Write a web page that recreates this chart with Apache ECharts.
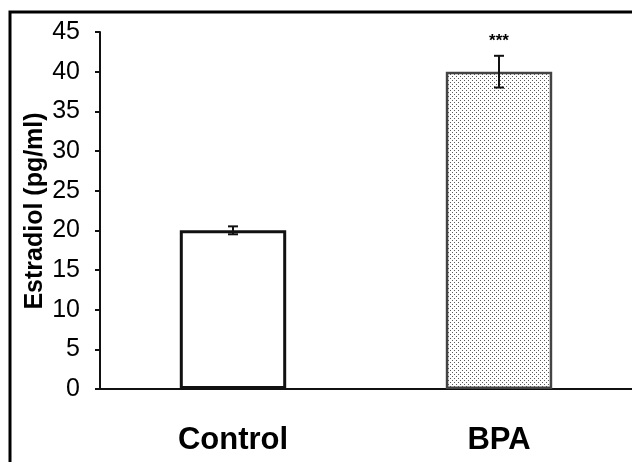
<!DOCTYPE html>
<html>
<head>
<meta charset="utf-8">
<script src="https://cdn.jsdelivr.net/npm/echarts@6/dist/echarts.min.js"></script>
<style>
html,body{margin:0;padding:0;background:#fff;}
#chart{width:632px;height:462px;}
</style>
</head>
<body>
<div id="chart"></div>
<script>
const categories = ['Control', 'BPA'];
const values = [20, 40];
const errors = [0.5, 2];
const significance = ['', '***'];
const yTicks = { min: 0, max: 45, interval: 5 };
const yTitle = 'Estradiol (pg/ml)';

// dotted fill pattern for BPA bar
function dotPattern() {
  const c = document.createElement('canvas');
  c.width = 4; c.height = 4;
  const ctx = c.getContext('2d');
  ctx.fillStyle = '#ffffff';
  ctx.fillRect(0, 0, 4, 4);
  ctx.fillStyle = '#5a5a5a';
  ctx.fillRect(0, 0, 1, 1);
  ctx.fillRect(2, 2, 1, 1);
  return c;
}

const font = 'Liberation Sans, Arial, Helvetica, sans-serif';
const chart = echarts.init(document.getElementById('chart'), null, { renderer: 'canvas' });

const barData = values.map((v, i) => ({
  value: v,
  itemStyle: i === 0
    ? { color: '#ffffff', borderColor: '#111', borderWidth: 3 }
    : { color: { image: dotPattern(), repeat: 'repeat' }, borderColor: '#444', borderWidth: 2.5 }
}));

const errData = values.map((v, i) => [i, v, errors[i], significance[i]]);

chart.setOption({
  animation: false,
  backgroundColor: '#ffffff',
  graphic: [{
    type: 'rect',
    shape: { x: 10, y: 12, width: 700, height: 500 },
    style: { fill: 'none', stroke: '#000', lineWidth: 3 },
    z: 100
  }, {
    type: 'text',
    x: 35, y: 211,
    rotation: Math.PI / 2,
    style: { text: yTitle, align: 'center', verticalAlign: 'middle', fill: '#000',
             font: 'bold 25px ' + font },
    z: 50
  }],
  grid: { left: 100, right: 0, top: 32, bottom: 73 },
  xAxis: {
    type: 'category',
    data: categories,
    boundaryGap: true,
    axisLine: { lineStyle: { color: '#111', width: 2 } },
    axisTick: { show: false },
    axisLabel: { color: '#000', fontSize: 31, fontWeight: 'bold', fontFamily: font, margin: 36 }
  },
  yAxis: {
    type: 'value',
    min: yTicks.min, max: yTicks.max, interval: yTicks.interval,
    axisLine: { show: true, lineStyle: { color: '#111', width: 2 } },
    axisTick: { show: true, inside: false, length: 5, lineStyle: { color: '#111', width: 2 } },
    axisLabel: { color: '#000', fontSize: 25, fontFamily: font, margin: 20 },
    splitLine: { show: false }
  },
  series: [
    {
      type: 'bar',
      data: barData,
      barWidth: '40%'
    },
    {
      type: 'custom',
      data: errData,
      z: 10,
      renderItem: function (params, api) {
        const x = api.value(0);
        const v = api.value(1);
        const e = api.value(2);
        const sig = errData[params.dataIndex][3];
        const top = api.coord([x, v + e]);
        const bot = api.coord([x, v - e]);
        const hw = 5;
        const style = { stroke: '#111', lineWidth: 2 };
        const children = [
          { type: 'line', shape: { x1: top[0], y1: top[1], x2: bot[0], y2: bot[1] }, style: style },
          { type: 'line', shape: { x1: top[0] - hw, y1: top[1], x2: top[0] + hw, y2: top[1] }, style: style },
          { type: 'line', shape: { x1: bot[0] - hw, y1: bot[1], x2: bot[0] + hw, y2: bot[1] }, style: style }
        ];
        if (sig) {
          children.push({
            type: 'text',
            style: { text: sig, x: top[0], y: top[1] - 14, align: 'center', verticalAlign: 'middle',
                     fill: '#000', font: 'bold 17px ' + font }
          });
        }
        return { type: 'group', children: children };
      }
    }
  ]
});
</script>
</body>
</html>
